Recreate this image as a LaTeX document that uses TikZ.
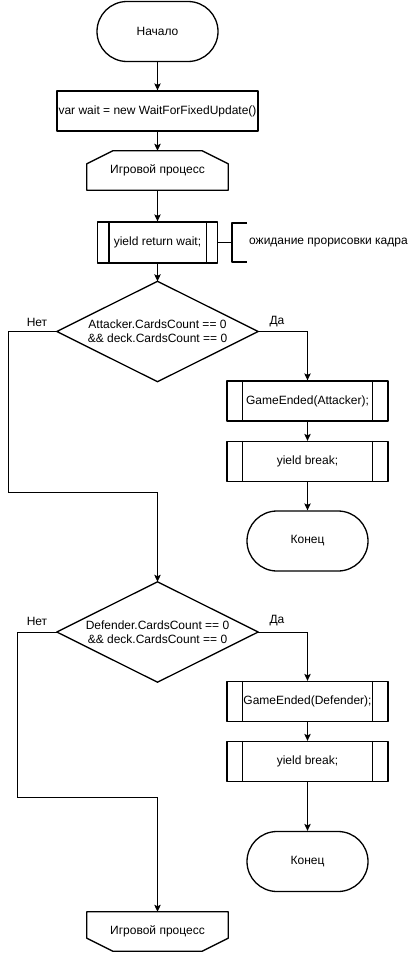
\documentclass[tikz,border=0pt]{standalone}
\usepackage{fontspec}
\setmainfont{Liberation Sans}
\usetikzlibrary{arrows.meta,calc}

\tikzset{
  blk/.style={line width=1.3pt, line join=round},
  txt/.style={inner sep=0pt, align=center, font=\fontsize{12}{14}\selectfont},
  termbox/.style={txt, draw, blk, rounded corners=30pt, minimum width=121pt, minimum height=60pt},
  procbox/.style={txt, draw, blk, minimum width=201pt, minimum height=40pt},
  subbox/.style={txt, draw, blk, minimum height=40pt},
  loopbox/.style={txt, minimum width=141pt, minimum height=39pt},
  decbox/.style={txt, minimum width=201pt, minimum height=100pt},
  conn/.style={line width=0.9pt, -{Stealth[length=7pt,width=6.5pt,inset=1.5pt]}},
  plain/.style={line width=0.9pt},
  lbl/.style={inner sep=0pt, font=\fontsize{12}{14}\selectfont}
}

\begin{document}
\begin{tikzpicture}[x=1pt,y=-1pt]
\useasboundingbox (0,0) rectangle (409,953);

% main column
\node[termbox] (start) at (157.5,31.5) {Начало};
\node[procbox] (init) at (157.5,111) {var wait = new WaitForFixedUpdate()};
\node[loopbox] (lp1) at (157.5,170.5) {Игровой процесс};
\draw[blk] ([xshift=26pt]lp1.north west) -- ([xshift=-26pt]lp1.north east)
  -- ([yshift=-13pt]lp1.north east) -- (lp1.south east) -- (lp1.south west)
  -- ([yshift=-13pt]lp1.north west) -- cycle;

\node[subbox, minimum width=120pt, minimum height=41pt] (yr) at (157.5,242.5) {yield return wait;};
\draw[blk] ([xshift=12pt]yr.north west) -- ([xshift=12pt]yr.south west);
\draw[blk] ([xshift=-12pt]yr.north east) -- ([xshift=-12pt]yr.south east);

% comment bracket
\coordinate (br) at (232,242.5);
\draw[line width=1.6pt] (yr.east) -- (br);
\draw[blk] ($(br)+(15,-19.5)$) -- ($(br)+(0,-19.5)$) -- ($(br)+(0,19.5)$) -- ($(br)+(15,19.5)$);
\node[lbl, anchor=west] (note) at (249,242.5) {ожидание прорисовки кадра};

% first decision
\node[decbox] (d1) at (157.5,331.5) {Attacker.CardsCount == 0\\\&\& deck.CardsCount == 0};
\draw[blk] (d1.north) -- (d1.east) -- (d1.south) -- (d1.west) -- cycle;
\node[lbl] (no1) at (37,322) {Нет};
\node[lbl] (yes1) at (277,322) {Да};

\node[subbox, minimum width=161pt] (ga) at (307.5,401) {GameEnded(Attacker);};
\draw[blk] ([xshift=16pt]ga.north west) -- ([xshift=16pt]ga.south west);
\draw[blk] ([xshift=-16pt]ga.north east) -- ([xshift=-16pt]ga.south east);

\node[subbox, minimum width=161pt] (yb1) at (307.5,461.5) {yield break;};
\draw[blk] ([xshift=16pt]yb1.north west) -- ([xshift=16pt]yb1.south west);
\draw[blk] ([xshift=-16pt]yb1.north east) -- ([xshift=-16pt]yb1.south east);

\node[termbox] (end1) at (307.5,541) {Конец};

% second decision
\node[decbox] (d2) at (157.5,632) {Defender.CardsCount == 0\\\&\& deck.CardsCount == 0};
\draw[blk] (d2.north) -- (d2.east) -- (d2.south) -- (d2.west) -- cycle;
\node[lbl] (no2) at (37,621) {Нет};
\node[lbl] (yes2) at (277,621) {Да};

\node[subbox, minimum width=161pt] (gd) at (307.5,701.5) {GameEnded(Defender);};
\draw[blk] ([xshift=16pt]gd.north west) -- ([xshift=16pt]gd.south west);
\draw[blk] ([xshift=-16pt]gd.north east) -- ([xshift=-16pt]gd.south east);

\node[subbox, minimum width=161pt] (yb2) at (307.5,761.5) {yield break;};
\draw[blk] ([xshift=16pt]yb2.north west) -- ([xshift=16pt]yb2.south west);
\draw[blk] ([xshift=-16pt]yb2.north east) -- ([xshift=-16pt]yb2.south east);

\node[termbox] (end2) at (307.5,861.5) {Конец};

% closing loop limit
\node[loopbox] (lp2) at (157.5,931.5) {Игровой процесс};
\draw[blk] (lp2.north west) -- (lp2.north east) -- ([yshift=13pt]lp2.south east)
  -- ([xshift=-26pt]lp2.south east) -- ([xshift=26pt]lp2.south west)
  -- ([yshift=13pt]lp2.south west) -- cycle;

% connectors
\draw[conn] (start) -- (init);
\draw[conn] (init) -- (lp1);
\draw[conn] (lp1) -- (yr);
\draw[conn] (yr) -- (d1.north);

\coordinate (k1) at (8,492);
\draw[conn] (d1.west) -| (k1) -| (d2.north);
\draw[conn] (d1.east) -| (ga.north);
\draw[conn] (ga) -- (yb1);
\draw[conn] (yb1) -- (end1);

\coordinate (k2) at (17,797);
\draw[conn] (d2.west) -| (k2) -| (lp2.north);
\draw[conn] (d2.east) -| (gd.north);
\draw[conn] (gd) -- (yb2);
\draw[conn] (yb2) -- (end2);
\end{tikzpicture}
\end{document}
